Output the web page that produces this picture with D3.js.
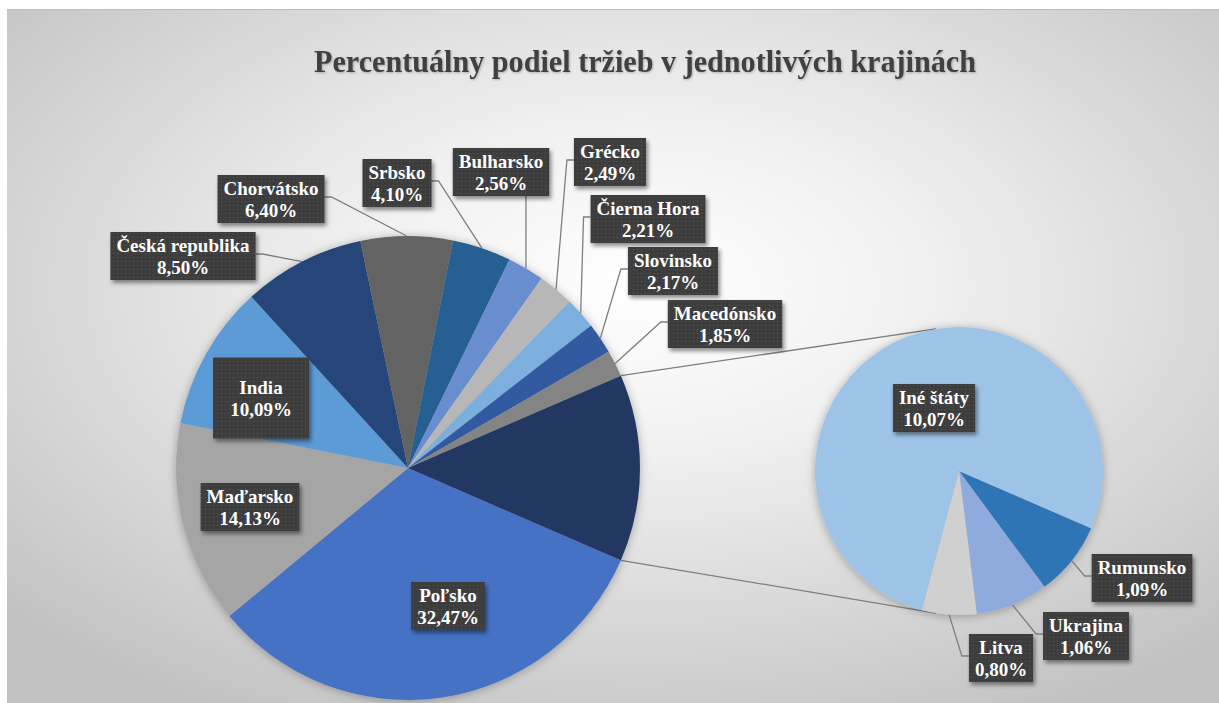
<!DOCTYPE html>
<html>
<head>
    <meta charset="utf-8">
    <title>Percentuálny podiel tržieb</title>
    <script src="https://d3js.org/d3.v7.min.js"></script>
    <style>
        body { margin: 0; background: #ffffff; }
    </style>
</head>
<body>
<div id="chart"></div>
<script>
    // main pie
    var mainNames = ["Poľsko", "Maďarsko", "India", "Česká republika", "Chorvátsko", "Srbsko",
                     "Bulharsko", "Grécko", "Čierna Hora", "Slovinsko", "Macedónsko"];
    var mainValues = [32.47, 14.13, 10.09, 8.50, 6.40, 4.10, 2.56, 2.49, 2.21, 2.17, 1.85];
    var mainColors = ["#4472c4", "#a5a5a5", "#5b9bd5", "#264478", "#636363", "#255e91",
                      "#698ed0", "#b7b7b7", "#7cafdd", "#335aa1", "#848484"];
    var otherColor = "#203864";

    // secondary pie (the "other" slice split up)
    var otherNames = ["Rumunsko", "Ukrajina", "Litva", "Iné štáty"];
    var otherValues = [1.09, 1.06, 0.80, 10.07];
    var otherColors = ["#2e75b6", "#8faadc", "#d0d0d0", "#9dc3e6"];

    var title = "Percentuálny podiel tržieb v jednotlivých krajinách";

    // label box centres (layout only)
    var labelPos = {
        "Poľsko": [448, 606], "Maďarsko": [250, 507], "India": [261, 398],
        "Česká republika": [183, 256], "Chorvátsko": [271, 199], "Srbsko": [397, 183],
        "Bulharsko": [501, 172], "Grécko": [610, 162], "Čierna Hora": [648, 219],
        "Slovinsko": [673, 271], "Macedónsko": [725, 324],
        "Rumunsko": [1142, 578], "Ukrajina": [1086, 636], "Litva": [1001, 658], "Iné štáty": [934, 408]
    };

    var W = 1219, H = 703;
    var main = {cx: 408, cy: 468, r: 232};
    var sec = {cx: 959, cy: 471, r: 144};
    var serif = "'Liberation Serif', 'Times New Roman', serif";

    var fmt = function(v) { return d3.format(".2f")(v).replace(".", ",") + "%"; };

    var svg = d3.select("#chart").append("svg")
        .attr("width", W).attr("height", H);

    var defs = svg.append("defs");
    var grad = defs.append("radialGradient").attr("id", "bg")
        .attr("cx", "52%").attr("cy", "40%").attr("r", "70%");
    grad.append("stop").attr("offset", "0%").attr("stop-color", "#ffffff");
    grad.append("stop").attr("offset", "35%").attr("stop-color", "#f0f0f0");
    grad.append("stop").attr("offset", "100%").attr("stop-color", "#c2c2c2");

    var pat = defs.append("pattern").attr("id", "dots")
        .attr("width", 4).attr("height", 4).attr("patternUnits", "userSpaceOnUse");
    pat.append("rect").attr("width", 4).attr("height", 4).attr("fill", "#3d3d3d");
    pat.append("rect").attr("x", 1).attr("y", 1).attr("width", 1).attr("height", 1).attr("fill", "#565656");

    defs.append("filter").attr("id", "boxShadow")
        .attr("x", "-20%").attr("y", "-20%").attr("width", "150%").attr("height", "150%")
        .append("feDropShadow").attr("dx", 2).attr("dy", 3).attr("stdDeviation", 2)
        .attr("flood-color", "#000").attr("flood-opacity", 0.45);
    defs.append("filter").attr("id", "pieShadow")
        .attr("x", "-10%").attr("y", "-10%").attr("width", "120%").attr("height", "120%")
        .append("feDropShadow").attr("dx", 0).attr("dy", 1).attr("stdDeviation", 5)
        .attr("flood-color", "#000").attr("flood-opacity", 0.3);
    defs.append("filter").attr("id", "titleShadow")
        .append("feDropShadow").attr("dx", 1).attr("dy", 1).attr("stdDeviation", 1)
        .attr("flood-color", "#000").attr("flood-opacity", 0.25);

    // chart background
    svg.append("rect").attr("x", 7).attr("y", 9).attr("width", W - 7).attr("height", H - 9)
        .attr("fill", "url(#bg)");
    svg.append("line").attr("x1", 7).attr("x2", W).attr("y1", 9.5).attr("y2", 9.5)
        .attr("stroke", "#bdbdbd");

    svg.append("text").attr("x", 645).attr("y", 72)
        .attr("text-anchor", "middle").attr("font-family", serif)
        .attr("font-weight", "bold").attr("font-size", 32)
        .attr("textLength", 662).attr("lengthAdjust", "spacingAndGlyphs")
        .attr("fill", "#404040").attr("filter", "url(#titleShadow)")
        .text(title);

    // pie layouts
    var otherTotal = d3.sum(otherValues);
    var mainData = mainNames.map(function(n, i) { return {name: n, value: mainValues[i], color: mainColors[i]}; });
    mainData.push({name: null, value: otherTotal, color: otherColor});
    var total = d3.sum(mainData, function(d) { return d.value; });
    // the "other" slice is centred on 3 o'clock, pointing at the second pie
    var start = Math.PI / 2 + Math.PI * otherTotal / total;

    var pie = d3.pie().sort(null).value(function(d) { return d.value; })
        .startAngle(start).endAngle(start + 2 * Math.PI);

    var mainArcs = pie(mainData);
    var secData = otherNames.map(function(n, i) { return {name: n, value: otherValues[i], color: otherColors[i]}; });
    var secArcs = pie(secData);

    var pt = function(c, r, a) { return [c.cx + r * Math.sin(a), c.cy - r * Math.cos(a)]; };

    // connector lines between the pies
    var oArc = mainArcs[mainArcs.length - 1];
    var connAngle = Math.PI - Math.acos((main.r - sec.r) / (sec.cx - main.cx));
    var conns = [
        [pt(main, main.r, oArc.startAngle), [sec.cx + sec.r * Math.cos(connAngle), sec.cy - sec.r * Math.sin(connAngle)]],
        [pt(main, main.r, oArc.endAngle), [sec.cx + sec.r * Math.cos(connAngle), sec.cy + sec.r * Math.sin(connAngle)]]
    ];
    svg.selectAll(".conn").data(conns).enter().append("line")
        .attr("x1", function(d) { return d[0][0]; }).attr("y1", function(d) { return d[0][1]; })
        .attr("x2", function(d) { return d[1][0]; }).attr("y2", function(d) { return d[1][1]; })
        .attr("stroke", "#7f7f7f").attr("stroke-width", 1.3);

    var drawPie = function(c, arcs) {
        var arc = d3.arc().innerRadius(0).outerRadius(c.r);
        var g = svg.append("g").attr("transform", "translate(" + c.cx + "," + c.cy + ")")
            .attr("filter", "url(#pieShadow)");
        g.selectAll("path").data(arcs).enter().append("path")
            .attr("d", arc).attr("fill", function(d) { return d.data.color; });
    };
    drawPie(main, mainArcs);
    drawPie(sec, secArcs);

    // data labels
    var labels = [];
    mainArcs.forEach(function(a) { if (a.data.name) labels.push({arc: a, c: main}); });
    secArcs.forEach(function(a) { labels.push({arc: a, c: sec}); });

    var lg = svg.append("g");
    labels.forEach(function(l) {
        var d = l.arc.data;
        var p = labelPos[d.name];
        var g = lg.append("g");
        var t1 = g.append("text").attr("x", p[0]).attr("y", p[1] - 4)
            .attr("text-anchor", "middle").attr("font-family", serif).attr("font-weight", "bold")
            .attr("font-size", 19).attr("fill", "#ffffff").text(d.name);
        var t2 = g.append("text").attr("x", p[0]).attr("y", p[1] + 18)
            .attr("text-anchor", "middle").attr("font-family", serif).attr("font-weight", "bold")
            .attr("font-size", 19).attr("fill", "#ffffff").text(fmt(d.value));
        var tw = Math.max(t1.node().getComputedTextLength(), t2.node().getComputedTextLength());
        var bw = tw + 12, bh = 48;
        if (d.name === "India") { bw = 96; bh = 81; }
        var x0 = p[0] - bw / 2, y0 = p[1] - bh / 2;
        g.insert("rect", "text").attr("x", x0).attr("y", y0).attr("width", bw).attr("height", bh)
            .attr("fill", "url(#dots)").attr("filter", "url(#boxShadow)");

        // leader line if the label sits outside the pie
        var mid = (l.arc.startAngle + l.arc.endAngle) / 2;
        var dist = Math.hypot(p[0] - l.c.cx, p[1] - l.c.cy);
        if (dist < l.c.r) return;
        var e = pt(l.c, l.c.r, mid);
        var pts;
        if (e[0] > x0 + bw) pts = [[x0 + bw, p[1] - 2], [x0 + bw + 7, p[1] - 2], e];
        else if (e[0] < x0) pts = [[x0, p[1] - 2], [x0 - 7, p[1] - 2], e];
        else pts = [[e[0], y0 + bh], e];
        lg.insert("path", "g").attr("d", d3.line()(pts))
            .attr("fill", "none").attr("stroke", "#7f7f7f").attr("stroke-width", 1.3);
    });
</script>
</body>
</html>
